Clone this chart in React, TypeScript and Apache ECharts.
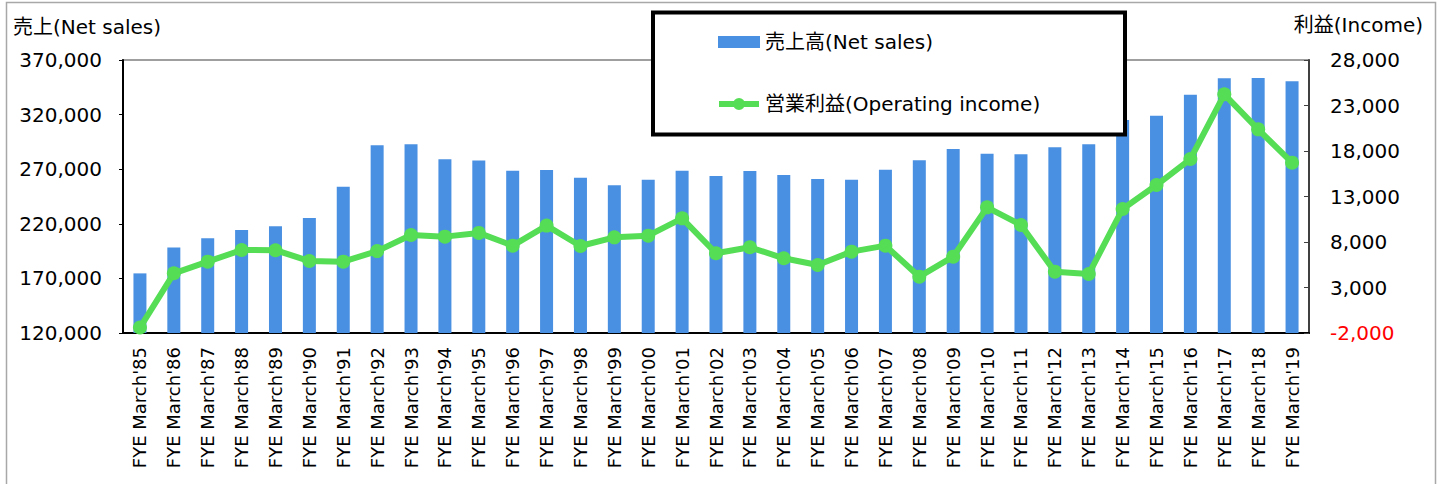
import React, { useEffect, useRef } from "react";
import * as echarts from "echarts";

const years = ["85","86","87","88","89","90","91","92","93","94","95","96","97","98","99","00","01","02","03","04","05","06","07","08","09","10","11","12","13","14","15","16","17","18","19"];
const categories = years.map((y) => `FYE March'${y}`);

const netSales = [174600, 198400, 206700, 214300, 217700, 225300, 254000, 291900, 292800, 279000, 277900, 268600, 269300, 262200, 255200, 260400, 268600, 263800, 268300, 264700, 261000, 260400, 269600, 278100, 288500, 284200, 283600, 290000, 292800, 315000, 319000, 338200, 353200, 353500, 350500];

const operatingIncome = [-1400, 4560, 5840, 7120, 7100, 5910, 5840, 7000, 8770, 8590, 9000, 7600, 9800, 7560, 8510, 8700, 10600, 6760, 7420, 6210, 5470, 6940, 7600, 4190, 6390, 11810, 9870, 4740, 4480, 11630, 14260, 17120, 24230, 20380, 16720];

const salesTicks = { min: 120000, max: 370000, interval: 50000 };
const incomeTicks = { min: -2000, max: 28000, interval: 5000 };

const seriesNames = ["売上高(Net sales)", "営業利益(Operating income)"];
const axisTitles = ["売上(Net sales)", "利益(Income)"];

const FONT = "'DejaVu Sans', 'Noto Sans CJK JP', sans-serif";
const BLUE = "#4A90E2";
const GREEN = "#55DD55";

const LINE_ICON =
  "path://M0,3 L40,3 L40,9 L0,9 Z M20,0 A6,6 0 1 1 20,12 A6,6 0 1 1 20,0 Z";

const fmt = (v: number) => v.toLocaleString("en-US");

export default function App() {
  const ref = useRef<HTMLDivElement>(null);
  useEffect(() => {
    if (!ref.current) return;
    const chart = echarts.init(ref.current, null, { renderer: "svg" });
    chart.setOption({
      animation: false,
      backgroundColor: "#fff",
      textStyle: { fontFamily: FONT },
      grid: {
        left: 123,
        right: 132,
        top: 60,
        bottom: 151,
        show: true,
        borderColor: "#808080",
        borderWidth: 1.5,
        backgroundColor: "transparent",
      },
      legend: {
        orient: "vertical",
        left: 718,
        top: 30,
        padding: 0,
        itemWidth: 42,
        itemHeight: 12,
        itemGap: 38,
        z: 10,
        textStyle: { fontSize: 20, color: "#000", fontFamily: FONT, lineHeight: 24 },
        data: [
          { name: seriesNames[0], icon: "rect" },
          { name: seriesNames[1], icon: LINE_ICON },
        ],
      },
      graphic: [
        {
          type: "rect",
          z: 3,
          shape: { x: 6.5, y: 2.5, width: 1429, height: 495 },
          style: { fill: "none", stroke: "#A8A8A8", lineWidth: 1.5 },
          silent: true,
        },
        {
          type: "rect",
          z: 3,
          shape: { x: 653, y: 12.5, width: 472, height: 122 },
          style: { fill: "#fff", stroke: "#000", lineWidth: 4 },
          silent: true,
        },
        {
          type: "text",
          z: 3,
          x: 13,
          y: 27,
          style: {
            text: axisTitles[0],
            fontSize: 20,
            fontFamily: FONT,
            fill: "#000",
            verticalAlign: "middle",
            align: "left",
          },
        },
        {
          type: "text",
          z: 3,
          x: 1423,
          y: 25,
          style: {
            text: axisTitles[1],
            fontSize: 20,
            fontFamily: FONT,
            fill: "#000",
            verticalAlign: "middle",
            align: "right",
          },
        },
      ],
      xAxis: {
        type: "category",
        data: categories,
        boundaryGap: true,
        axisLine: { onZero: false, lineStyle: { color: "#000", width: 2 } },
        axisTick: { inside: true, length: 4, interval: 0, lineStyle: { color: "#808080" } },
        axisLabel: {
          rotate: 90,
          interval: 0,
          margin: 14,
          fontSize: 18,
          color: "#000",
          fontFamily: FONT,
        },
        splitLine: { show: false },
      },
      yAxis: [
        {
          type: "value",
          min: salesTicks.min,
          max: salesTicks.max,
          interval: salesTicks.interval,
          axisLine: { show: true, lineStyle: { color: "#000", width: 2 } },
          axisTick: { show: true, inside: false, length: 4, lineStyle: { color: "#000" } },
          axisLabel: { fontSize: 20, color: "#000", margin: 21, fontFamily: FONT, formatter: fmt },
          splitLine: { show: false },
        },
        {
          type: "value",
          min: incomeTicks.min,
          max: incomeTicks.max,
          interval: incomeTicks.interval,
          position: "right",
          axisLine: { show: true, lineStyle: { color: "#404040", width: 2 } },
          axisTick: { show: true, inside: true, length: 5, lineStyle: { color: "#404040" } },
          axisLabel: {
            fontSize: 20,
            margin: 21,
            fontFamily: FONT,
            formatter: fmt,
            color: (v: any) => (Number(v) < 0 ? "#FF0000" : "#000"),
          },
          splitLine: { show: false },
        },
      ],
      series: [
        {
          name: seriesNames[0],
          type: "bar",
          yAxisIndex: 0,
          data: netSales,
          barWidth: 13,
          itemStyle: { color: BLUE },
          z: 2,
        },
        {
          name: seriesNames[1],
          type: "line",
          yAxisIndex: 1,
          data: operatingIncome,
          symbol: "circle",
          symbolSize: 14,
          lineStyle: { color: GREEN, width: 6 },
          itemStyle: { color: GREEN },
          z: 2,
        },
      ],
    });
    return () => chart.dispose();
  }, []);
  return (
    <div
      ref={ref}
      style={{ position: "absolute", left: 0, top: 0, width: 1441, height: 484 }}
    />
  );
}
